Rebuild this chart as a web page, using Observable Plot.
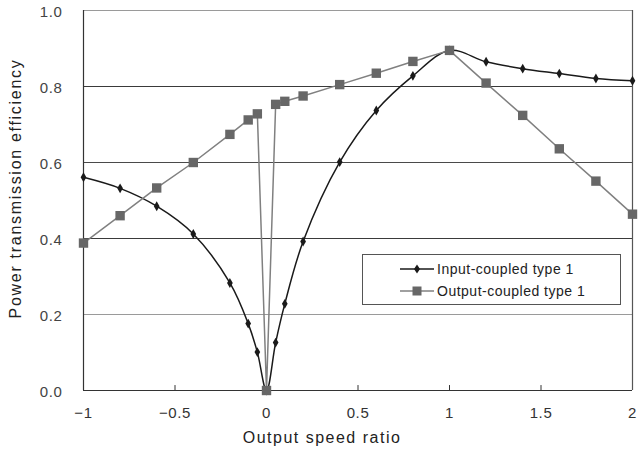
<!DOCTYPE html>
<html>
<head>
<meta charset="utf-8">
<script src="https://cdn.jsdelivr.net/npm/d3@7"></script>
<script src="https://cdn.jsdelivr.net/npm/@observablehq/plot@0.6"></script>
<style>
  html, body { margin: 0; padding: 0; background: #fff; }
  #wrap { position: relative; width: 638px; height: 454px; font-family: "Liberation Sans", Arial, sans-serif; }
  #legend { position: absolute; left: 362px; top: 254px; width: 257px; height: 49px; border: 1px solid #555; background: #fff; box-sizing: content-box; }
  .item { position: absolute; left: 37px; height: 16px; display: flex; align-items: center; font-size: 14px; color: #222; letter-spacing: 0.5px; }
  .item svg { margin-right: 3px; }
</style>
</head>
<body>
<div id="wrap"></div>
<script>
// x values (output speed ratio)
const speedRatio = [-1, -0.8, -0.6, -0.4, -0.2, -0.1, -0.05, 0, 0.05, 0.1, 0.2, 0.4, 0.6, 0.8, 1.0, 1.2, 1.4, 1.6, 1.8, 2.0];
// Input-coupled type 1 efficiency
const inputCoupled = [0.561, 0.532, 0.485, 0.412, 0.283, 0.176, 0.101, 0.0, 0.126, 0.228, 0.392, 0.601, 0.737, 0.828, 0.895, 0.865, 0.847, 0.834, 0.821, 0.815];
// Output-coupled type 1 efficiency
const outputCoupled = [0.388, 0.460, 0.533, 0.600, 0.674, 0.712, 0.728, 0.0, 0.753, 0.761, 0.775, 0.805, 0.835, 0.866, 0.895, 0.809, 0.724, 0.636, 0.551, 0.464];
const seriesNames = ["Input-coupled type 1", "Output-coupled type 1"];
const xTitle = "Output speed ratio";
const yTitle = "Power transmission efficiency";
const xTicks = [-1, -0.5, 0, 0.5, 1, 1.5, 2];
const yTicks = [0, 0.2, 0.4, 0.6, 0.8, 1.0];
const gridLines = [0.2, 0.4, 0.6, 0.8, 1.0];
const gridColors = ["#9a9a9a", "#3a3a3a", "#4a4a4a", "#3a3a3a", "#9a9a9a"];

const inData = speedRatio.map((x, i) => ({x, y: inputCoupled[i]}));
const outData = speedRatio.map((x, i) => ({x, y: outputCoupled[i]}));
const grid = gridLines.map((y, i) => ({y, c: gridColors[i]}));
const fmtX = d => (d < 0 ? "\u2212" + Math.abs(d) : String(d));

const chart = Plot.plot({
  width: 638,
  height: 454,
  marginLeft: 83,
  marginRight: 6,
  marginTop: 10,
  marginBottom: 64,
  style: {fontFamily: "Liberation Sans, Arial, sans-serif", fontSize: "14px", color: "#333", background: "#fff"},
  x: {domain: [-1, 2]},
  y: {domain: [0, 1]},
  marks: [
    Plot.ruleY(grid, {y: "y", stroke: "c", strokeWidth: 1.2}),
    Plot.ruleX([2], {stroke: "#555", strokeWidth: 1.2}),
    Plot.ruleX([-1], {stroke: "#333", strokeWidth: 1.2}),
    Plot.ruleY([0], {stroke: "#333", strokeWidth: 1.2}),
    Plot.ruleX(xTicks.slice(1, -1), {y1: 0, y2: 0.013, stroke: "#333"}),
    Plot.axisX(xTicks, {tickSize: 0, tickPadding: 17, tickFormat: fmtX, label: null, fontSize: 15, fill: "#333"}),
    Plot.axisY(yTicks, {tickSize: 0, tickPadding: 21, tickFormat: d3.format(".1f"), label: null, fontSize: 15, fill: "#444", dy: 2}),
    Plot.line(inData, {x: "x", y: "y", curve: "catmull-rom", stroke: "#1a1a1a", strokeWidth: 1.5}),
    Plot.dot(inData, {x: "x", y: "y", symbol: "diamond", r: 3, fill: "#1a1a1a"}),
    Plot.line(outData, {x: "x", y: "y", stroke: "#808080", strokeWidth: 1.5}),
    Plot.dot(outData, {x: "x", y: "y", symbol: "square", r: 5.3, fill: "#676767"}),
    Plot.text([xTitle], {frameAnchor: "bottom", dy: 52, dx: -36, fontSize: 16, fill: "#222", textAnchor: "middle"}),
    Plot.text([yTitle], {frameAnchor: "left", rotate: -90, dx: -68, dy: -12, fontSize: 16, fill: "#222", textAnchor: "middle"})
  ]
});

// letter spacing for titles and tick labels
chart.querySelectorAll("text").forEach(t => {
  const s = t.textContent;
  if (s === xTitle) t.setAttribute("letter-spacing", "1.5px");
  else if (s === yTitle) t.setAttribute("letter-spacing", "1.7px");
  else t.setAttribute("letter-spacing", "0.6px");
});

const wrap = document.getElementById("wrap");
wrap.appendChild(chart);

// legend
const legend = document.createElement("div");
legend.id = "legend";
const items = [
  {name: seriesNames[0], stroke: "#1a1a1a", marker: "diamond"},
  {name: seriesNames[1], stroke: "#808080", marker: "square"}
];
items.forEach((it, i) => {
  const div = document.createElement("div");
  div.className = "item";
  div.style.top = (i === 0 ? 6 : 28) + "px";
  const ns = "http://www.w3.org/2000/svg";
  const svg = document.createElementNS(ns, "svg");
  svg.setAttribute("width", 34);
  svg.setAttribute("height", 14);
  const line = document.createElementNS(ns, "line");
  line.setAttribute("x1", 0); line.setAttribute("x2", 34);
  line.setAttribute("y1", 7); line.setAttribute("y2", 7);
  line.setAttribute("stroke", it.stroke); line.setAttribute("stroke-width", 1.5);
  svg.appendChild(line);
  const m = document.createElementNS(ns, "path");
  if (it.marker === "diamond") {
    m.setAttribute("d", "M17,2.5L20,7L17,11.5L14,7Z");
    m.setAttribute("fill", "#1a1a1a");
  } else {
    m.setAttribute("d", "M12.5,2.5H21.5V11.5H12.5Z");
    m.setAttribute("fill", "#676767");
  }
  svg.appendChild(m);
  div.appendChild(svg);
  const span = document.createElement("span");
  span.textContent = it.name;
  div.appendChild(span);
  legend.appendChild(div);
});
wrap.appendChild(legend);
</script>
</body>
</html>
